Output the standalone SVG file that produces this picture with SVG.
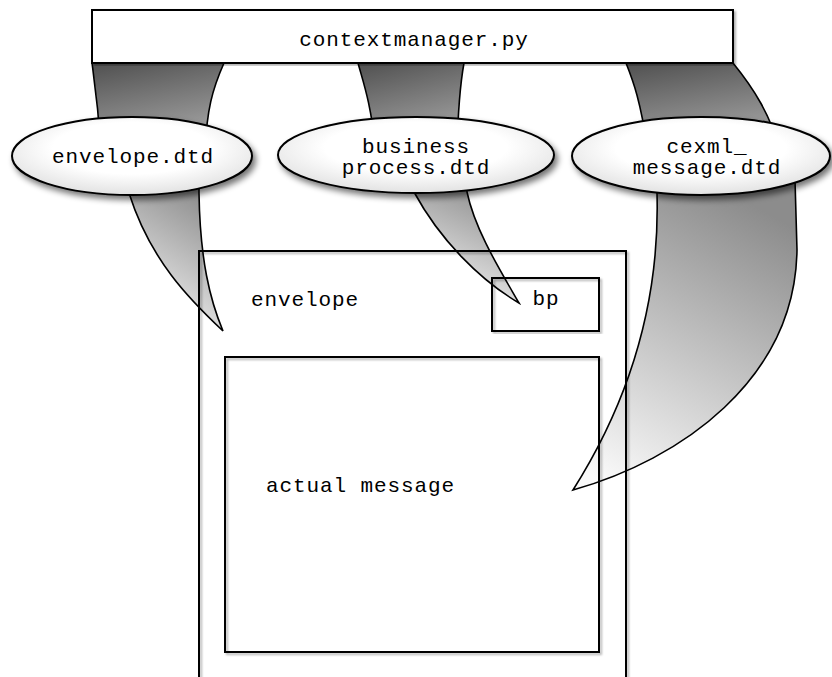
<svg xmlns="http://www.w3.org/2000/svg" width="832" height="677" viewBox="0 0 832 677">
  <style>
    .lbl { font-family: "Liberation Mono", "DejaVu Sans Mono", monospace; font-size: 21px; letter-spacing: 0.9px; fill: #000; }
    .mid { text-anchor: middle; }
    .box { fill: none; stroke: #000; stroke-width: 2; }
    .topbox { fill: #fff; stroke: #000; stroke-width: 2; }
    .oval { fill: url(#ovalFill); stroke: #000; stroke-width: 2; }
    .wedgeUp { fill: url(#darkFade); stroke: #000; stroke-width: 1.6; }
    .wedgeDown { fill: url(#lightFade); stroke: #000; stroke-width: 1.6; }
  </style>
  <defs>
    <linearGradient id="darkFade" x1="0" y1="0" x2="0.3" y2="1">
      <stop offset="0" stop-color="#505050"/>
      <stop offset="1" stop-color="#a4a4a4"/>
    </linearGradient>
    <linearGradient id="lightFade" x1="0.6" y1="0" x2="0.2" y2="1">
      <stop offset="0" stop-color="#8c8c8c"/>
      <stop offset="1" stop-color="#fafafa"/>
    </linearGradient>
    <radialGradient id="ovalFill" cx="0.5" cy="0.4" r="0.6">
      <stop offset="0.55" stop-color="#ffffff"/>
      <stop offset="1" stop-color="#e2e2e2"/>
    </radialGradient>
    <filter id="softShadow" x="-10%" y="-20%" width="125%" height="150%">
      <feGaussianBlur in="SourceAlpha" stdDeviation="3"/>
      <feOffset dx="3" dy="4"/>
      <feComponentTransfer><feFuncA type="linear" slope="0.55"/></feComponentTransfer>
      <feMerge><feMergeNode/><feMergeNode in="SourceGraphic"/></feMerge>
    </filter>
    <filter id="lineShadow" x="-5%" y="-5%" width="110%" height="110%">
      <feGaussianBlur in="SourceAlpha" stdDeviation="1"/>
      <feOffset dx="1.5" dy="1.5"/>
      <feComponentTransfer><feFuncA type="linear" slope="0.3"/></feComponentTransfer>
      <feMerge><feMergeNode/><feMergeNode in="SourceGraphic"/></feMerge>
    </filter>
  </defs>

  <!-- tapered connectors -->
  <g id="connectors">
    <path class="wedgeUp" d="M92,63 C95,85 98,105 101,150 L205,150 C207,110 212,90 224,63 Z"/>
    <path class="wedgeUp" d="M358,63 C364,85 370,100 376,150 L457,150 C458,110 460,85 464,63 Z"/>
    <path class="wedgeUp" d="M626,63 C634,83 640,100 648,150 L780,150 C770,115 755,90 733,63 Z"/>
    <path class="wedgeDown" d="M129,180 L129,193 C150,260 190,300 223,331 C210,300 200,260 199,193 L199,180 Z"/>
    <path class="wedgeDown" d="M414,180 L414,192 C440,240 480,280 519,303 C500,270 475,230 467,192 L467,180 Z"/>
    <path class="wedgeDown" d="M657,180 L657,193 C660,300 630,400 573,490 C680,460 795,380 797,250 L795,180 Z"/>
  </g>

  <g id="contextmanager">
    <rect class="topbox" x="92" y="10" width="641" height="53" filter="url(#lineShadow)"/>
    <text class="lbl mid" x="414" y="46">contextmanager.py</text>
  </g>

  <g id="envelope-dtd">
    <ellipse class="oval" cx="132" cy="156" rx="120" ry="39" filter="url(#softShadow)"/>
    <text class="lbl mid" x="133" y="163">envelope.dtd</text>
  </g>

  <g id="businessprocess-dtd">
    <ellipse class="oval" cx="416" cy="155" rx="138" ry="38" filter="url(#softShadow)"/>
    <text class="lbl mid" x="416" y="153">business</text>
    <text class="lbl mid" x="416" y="174">process.dtd</text>
  </g>

  <g id="cexml-message-dtd">
    <ellipse class="oval" cx="701" cy="156" rx="129" ry="39" filter="url(#softShadow)"/>
    <text class="lbl mid" x="707" y="153">cexml_</text>
    <text class="lbl mid" x="707" y="174">message.dtd</text>
  </g>

  <g id="envelope">
    <rect class="box" x="199" y="251" width="427" height="450" filter="url(#lineShadow)"/>
    <text class="lbl" x="251" y="306">envelope</text>
  </g>

  <g id="bp">
    <rect class="box" x="492" y="278" width="107" height="53" filter="url(#lineShadow)"/>
    <text class="lbl mid" x="546" y="305">bp</text>
  </g>

  <g id="actual-message">
    <rect class="box" x="225" y="357" width="374" height="295" filter="url(#lineShadow)"/>
    <text class="lbl" x="266" y="492">actual message</text>
  </g>
</svg>
